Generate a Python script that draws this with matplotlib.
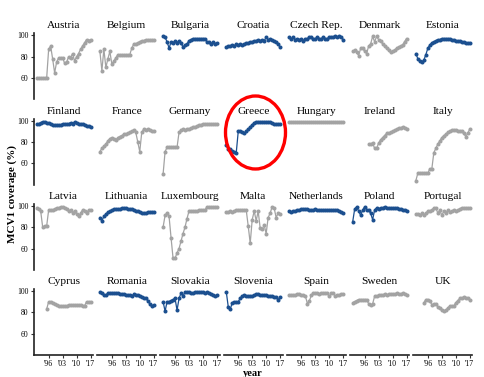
import matplotlib
matplotlib.use("Agg")
import matplotlib.pyplot as plt
from matplotlib.patches import Ellipse
import numpy as np

countries = ["Austria", "Belgium", "Bulgaria", "Croatia", "Czech Rep.", "Denmark", "Estonia",
             "Finland", "France", "Germany", "Greece", "Hungary", "Ireland", "Italy",
             "Latvia", "Lithuania", "Luxembourg", "Malta", "Netherlands", "Poland", "Portugal",
             "Cyprus", "Romania", "Slovakia", "Slovenia", "Spain", "Sweden", "UK"]

highlighted = ["Bulgaria", "Croatia", "Czech Rep.", "Estonia", "Finland", "Greece",
               "Lithuania", "Netherlands", "Poland", "Romania", "Slovakia", "Slovenia"]

start_year = {"Cyprus": 1995, "Ireland": 1998, "UK": 1994}

austria = [60, 60, 60, 60, 60, 60, 87, 90, 78, 65, 75, 79, 79, 79, 74, 75, 80, 79, 83, 76, 80, 83, 87, 90, 93, 96, 95, 96]
belgium = [85, 67, 87, 70, 78, 85, 73, 76, 79, 82, 82, 82, 82, 82, 82, 82, 88, 92, 92, 93, 94, 95, 95, 96, 96, 96, 96, 96]
bulgaria = [99, 98, 94, 88, 94, 93, 95, 93, 95, 93, 89, 91, 92, 95, 96, 97, 97, 97, 97, 97, 97, 97, 94, 94, 92, 94, 92, 93]
croatia = [89, 90, 90, 91, 90, 92, 91, 92, 91, 92, 93, 93, 94, 94, 95, 95, 96, 95, 96, 95, 98, 96, 97, 96, 95, 94, 92, 89]
czech = [98, 97, 98, 96, 97, 96, 97, 95, 97, 97, 98, 98, 97, 97, 98, 97, 97, 98, 97, 97, 98, 98, 98, 99, 98, 99, 98, 96]
denmark = [85, 86, 84, 81, 88, 88, 85, 83, 90, 92, 99, 94, 99, 96, 95, 92, 90, 88, 86, 84, 85, 86, 88, 89, 90, 91, 94, 97]
estonia = [83, 78, 76, 75, 77, 82, 88, 91, 93, 94, 95, 96, 96, 97, 97, 97, 97, 97, 96, 96, 95, 95, 95, 94, 94, 93, 93, 93]
finland = [97, 97, 98, 99, 99, 98, 98, 97, 96, 96, 96, 96, 96, 97, 97, 97, 97, 98, 97, 99, 98, 97, 97, 97, 96, 95, 95, 94]
france = [71, 74, 76, 78, 81, 83, 84, 83, 82, 84, 85, 86, 87, 87, 88, 89, 90, 91, 89, 80, 71, 89, 92, 91, 92, 91, 90, 90]
germany = [50, 71, 75, 75, 75, 75, 75, 75, 89, 91, 92, 91, 92, 92, 93, 94, 94, 95, 96, 96, 97, 97, 97, 97, 97, 97, 97, 97]
greece = [77, 73, 73, 72, 71, 70, 90, 90, 89, 88, 90, 92, 94, 96, 98, 99, 99, 99, 99, 99, 99, 99, 99, 98, 97, 97, 97, 97]
hungary = [99, 99, 99, 99, 99, 99, 99, 99, 99, 99, 99, 99, 99, 99, 99, 99, 99, 99, 99, 99, 99, 99, 99, 99, 99, 99, 99, 99]
ireland = [78, 78, 79, 74, 74, 79, 82, 84, 86, 88, 88, 89, 90, 91, 92, 93, 93, 94, 93, 92]
italy = [44, 51, 51, 51, 51, 51, 51, 55, 55, 70, 74, 78, 81, 84, 86, 87, 89, 90, 91, 91, 91, 90, 90, 90, 88, 85, 88, 92]
latvia = [98, 97, 95, 80, 81, 81, 96, 96, 96, 97, 98, 98, 99, 99, 98, 97, 95, 96, 93, 95, 92, 90, 93, 96, 95, 93, 96, 96]
lithuania = [89, 86, 90, 92, 94, 95, 96, 97, 97, 97, 97, 98, 98, 98, 97, 97, 97, 96, 95, 95, 94, 93, 93, 93, 94, 94, 94, 94]
luxembourg = [80, 91, 93, 90, 70, 51, 51, 56, 60, 67, 74, 80, 88, 95, 95, 95, 95, 95, 96, 96, 96, 96, 99, 99, 99, 99, 99, 99]
malta = [94, 94, 95, 94, 95, 96, 96, 96, 96, 96, 96, 81, 65, 87, 95, 86, 95, 79, 78, 82, 74, 89, 93, 99, 98, 89, 93, 92]
netherlands = [95, 94, 95, 95, 96, 96, 97, 97, 97, 97, 96, 96, 96, 97, 96, 96, 96, 96, 96, 96, 96, 96, 96, 96, 96, 95, 94, 93]
poland = [85, 97, 99, 95, 91, 96, 99, 96, 96, 93, 87, 96, 98, 97, 98, 98, 99, 98, 98, 98, 98, 98, 98, 97, 97, 96, 96, 95]
portugal = [92, 92, 91, 93, 91, 93, 95, 95, 96, 98, 98, 93, 96, 91, 95, 93, 96, 94, 95, 96, 95, 96, 97, 98, 98, 98, 98, 98]
cyprus = [83, 90, 90, 89, 88, 87, 86, 86, 86, 86, 86, 87, 87, 87, 87, 87, 87, 87, 86, 86, 90, 90, 90]
romania = [99, 98, 96, 96, 98, 98, 98, 98, 98, 98, 97, 97, 97, 96, 96, 96, 95, 97, 96, 96, 95, 94, 93, 93, 91, 88, 86, 87]
slovakia = [90, 81, 90, 90, 91, 92, 93, 82, 93, 98, 95, 99, 99, 99, 98, 98, 99, 99, 99, 99, 99, 98, 99, 98, 97, 96, 95, 96]
slovenia = [99, 85, 83, 89, 90, 90, 90, 93, 95, 96, 95, 95, 95, 95, 96, 97, 97, 96, 96, 96, 96, 95, 95, 95, 94, 94, 92, 94]
spain = [96, 96, 96, 96, 97, 97, 96, 96, 95, 88, 91, 96, 98, 98, 98, 97, 98, 98, 98, 98, 95, 98, 98, 95, 96, 96, 97, 97]
sweden = [89, 90, 91, 92, 92, 92, 92, 92, 88, 87, 88, 95, 95, 96, 96, 96, 97, 96, 97, 97, 97, 97, 98, 97, 97, 98, 97, 96]
uk = [89, 92, 92, 91, 87, 88, 88, 85, 84, 82, 81, 82, 84, 86, 86, 86, 89, 91, 93, 93, 94, 93, 93, 92]

series = [austria, belgium, bulgaria, croatia, czech, denmark, estonia,
          finland, france, germany, greece, hungary, ireland, italy,
          latvia, lithuania, luxembourg, malta, netherlands, poland, portugal,
          cyprus, romania, slovakia, slovenia, spain, sweden, uk]

x_ticks = [1996, 2003, 2010, 2017]
x_tick_labels = ["'96", "'03", "'10", "'17"]
y_ticks = [60, 80, 100]

BLUE = "#1b4f8f"
GREY = "#a3a3a3"
SERIF = ["Liberation Serif", "DejaVu Serif"]

W, H = 485, 377
fig = plt.figure(figsize=(W / 100, H / 100), dpi=100)

left0, col_step, pw = 34.0, 63.2, 59.2
top0, row_step, ph = 33.4, 85.2, 66.0

axes = {}
for i, (name, vals) in enumerate(zip(countries, series)):
    r, c = divmod(i, 7)
    x0 = left0 + c * col_step
    y0 = top0 + r * row_step
    ax = fig.add_axes([x0 / W, 1 - (y0 + ph) / H, pw / W, ph / H])
    ax.patch.set_alpha(0)
    sy = start_year.get(name, 1990)
    yrs = np.arange(sy, sy + len(vals))
    col = BLUE if name in highlighted else GREY
    ax.plot(yrs, vals, "-", color=col, lw=0.9, zorder=2)
    ax.plot(yrs, vals, "o", color=col, ms=2.9, mew=0, zorder=3)
    ax.set_xlim(1988.65, 2018.35)
    ax.set_ylim(40.2, 101.8)
    for s in ax.spines.values():
        s.set_visible(False)
    ax.text(0.5, 1.0 + 7.5 / ph, name, transform=ax.transAxes, ha="center", va="center",
            fontsize=8.2, family=SERIF)
    if c == 0:
        ax.spines["left"].set_visible(True)
        ax.spines["left"].set_linewidth(1.2)
        ax.spines["left"].set_color("#222222")
        ax.set_yticks(y_ticks)
        ax.set_yticklabels([str(v) for v in y_ticks], family=SERIF, fontsize=5.5)
        ax.tick_params(axis="y", length=2.5, width=0.8, pad=1.5, color="#333333")
    else:
        ax.set_yticks([])
    if r == 3:
        ax.spines["bottom"].set_visible(True)
        ax.spines["bottom"].set_linewidth(1.2)
        ax.spines["bottom"].set_color("#222222")
        ax.set_xticks(x_ticks)
        ax.set_xticklabels(x_tick_labels, family=SERIF, fontsize=5.5)
        ax.tick_params(axis="x", length=2.5, width=0.8, pad=1.0, color="#333333")
    else:
        ax.set_xticks([])
    axes[name] = ax

fig.text(12.5 / W, 1 - 194 / H, "MCV1 coverage (%)", rotation=90, ha="center", va="center",
         fontsize=8, fontweight="bold", family=SERIF)
fig.text(253 / W, 1 - 373 / H, "year", ha="center", va="center",
         fontsize=7.5, fontweight="bold", family=SERIF)

ell = Ellipse((255.5 / W, 1 - 132.5 / H), 60 / W, 73 / H, transform=fig.transFigure,
              fill=False, edgecolor="#ff0000", lw=2.4, zorder=10)
fig.add_artist(ell)

fig.savefig("out.png", dpi=100)
